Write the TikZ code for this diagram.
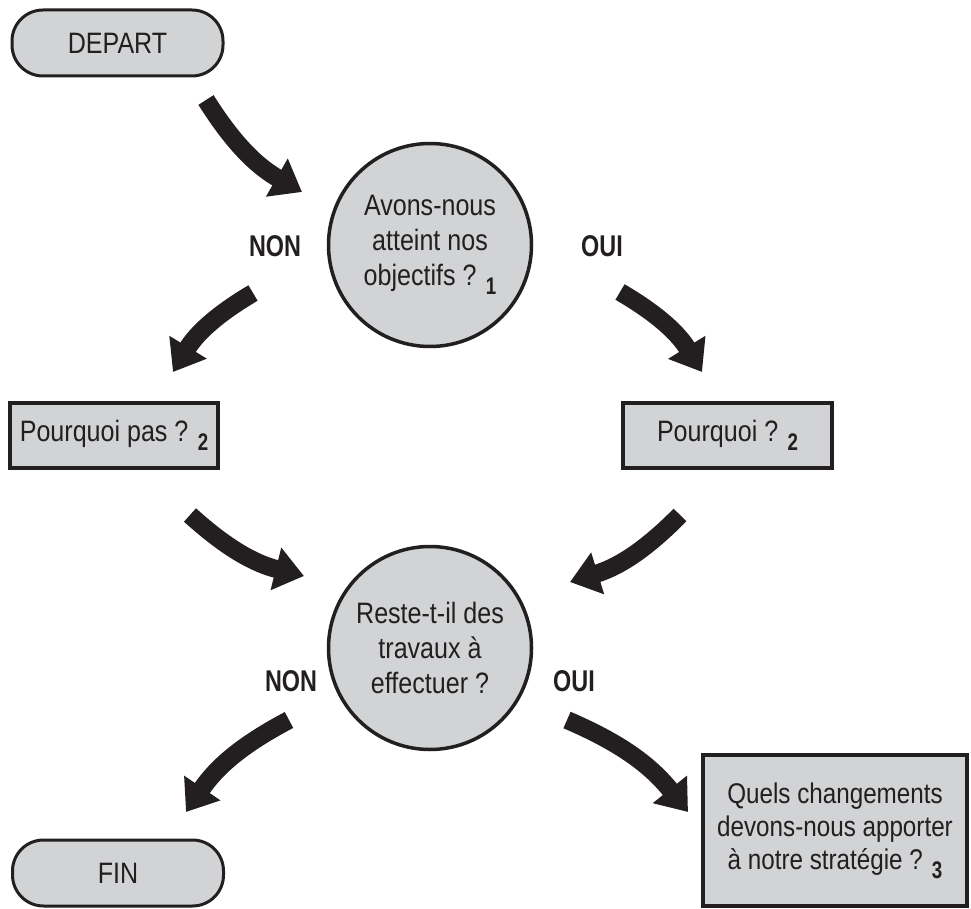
\documentclass[tikz,border=0pt]{standalone}
\usepackage{fontspec}
\setmainfont{Liberation Sans}[FakeStretch=0.85]
\newfontfamily\boldcond{Liberation Sans}[FakeStretch=0.78]
\usetikzlibrary{arrows.meta}
\definecolor{boxgray}{HTML}{D1D3D4}
\definecolor{ink}{HTML}{231F20}
\newcommand\subnum[1]{\raisebox{-9pt}{\fontsize{24}{24}\selectfont\boldcond\bfseries #1}}
\begin{document}
\begin{tikzpicture}[x=1pt,y=-1pt,
  txt/.style={font=\fontsize{29.5}{35}\selectfont, text=ink},
  pill/.style={txt, draw=ink, line width=3pt, fill=boxgray, rounded corners=31pt, minimum width=211pt, minimum height=66pt, inner sep=0pt},
  rbox/.style={txt, draw=ink, line width=4pt, fill=boxgray, inner sep=0pt},
  disc/.style={txt, draw=ink, line width=3.5pt, fill=boxgray, circle, minimum size=203pt, inner sep=0pt, align=center},
  lab/.style={font=\fontsize{30}{30}\selectfont\boldcond\bfseries, text=ink},
  bigarrow/.style={draw=ink, line width=18pt, -{Triangle[length=29pt,width=42pt]}},
]
\useasboundingbox (0,0) rectangle (971,909);
\fill[white] (0,0) rectangle (971,909);

\node[pill] (depart) at (117.5,43) {DEPART};
\node[disc] (q1) at (430,245) {Avons-nous\\atteint nos\\objectifs ? \subnum{1}};
\node[rbox, minimum width=208pt, minimum height=65pt] (whynot) at (114,435.5) {Pourquoi pas ? \subnum{2}};
\node[rbox, minimum width=209pt, minimum height=65pt] (why) at (727.5,435.5) {Pourquoi ? \subnum{2}};
\node[disc] (q2) at (430,648) {Reste-t-il des\\travaux à\\effectuer ?};
\node[pill] (fin) at (118,873) {FIN};
\node[rbox, font=\fontsize{28.5}{33}\selectfont, minimum width=264pt, minimum height=151pt, align=center] (change) at (835,830.5) {Quels changements\\devons-nous apporter\\à notre stratégie ? \subnum{3}};

\node[lab] (non1) at (275,246) {NON};
\node[lab] (oui1) at (602,246) {OUI};
\node[lab] (non2) at (291,681) {NON};
\node[lab] (oui2) at (574,681) {OUI};

\coordinate (a1s) at (206,100);  \coordinate (a1e) at (302,192);
\coordinate (a2s) at (253,293);  \coordinate (a2e) at (173,372);
\coordinate (a3s) at (620,292);  \coordinate (a3e) at (702,372);
\coordinate (a4s) at (190,515);  \coordinate (a4e) at (304,576);
\coordinate (a5s) at (680,515);  \coordinate (a5e) at (570,582);
\coordinate (a6s) at (289,720);  \coordinate (a6e) at (186,812);
\coordinate (a7s) at (567,720);  \coordinate (a7e) at (688,812);

\draw[bigarrow] (a1s) to[bend right=14] (a1e);
\draw[bigarrow] (a2s) to[bend right=14] (a2e);
\draw[bigarrow] (a3s) to[bend left=14] (a3e);
\draw[bigarrow] (a4s) to[bend right=14] (a4e);
\draw[bigarrow] (a5s) to[bend left=14] (a5e);
\draw[bigarrow] (a6s) to[bend right=14] (a6e);
\draw[bigarrow] (a7s) to[bend left=14] (a7e);
\end{tikzpicture}
\end{document}
